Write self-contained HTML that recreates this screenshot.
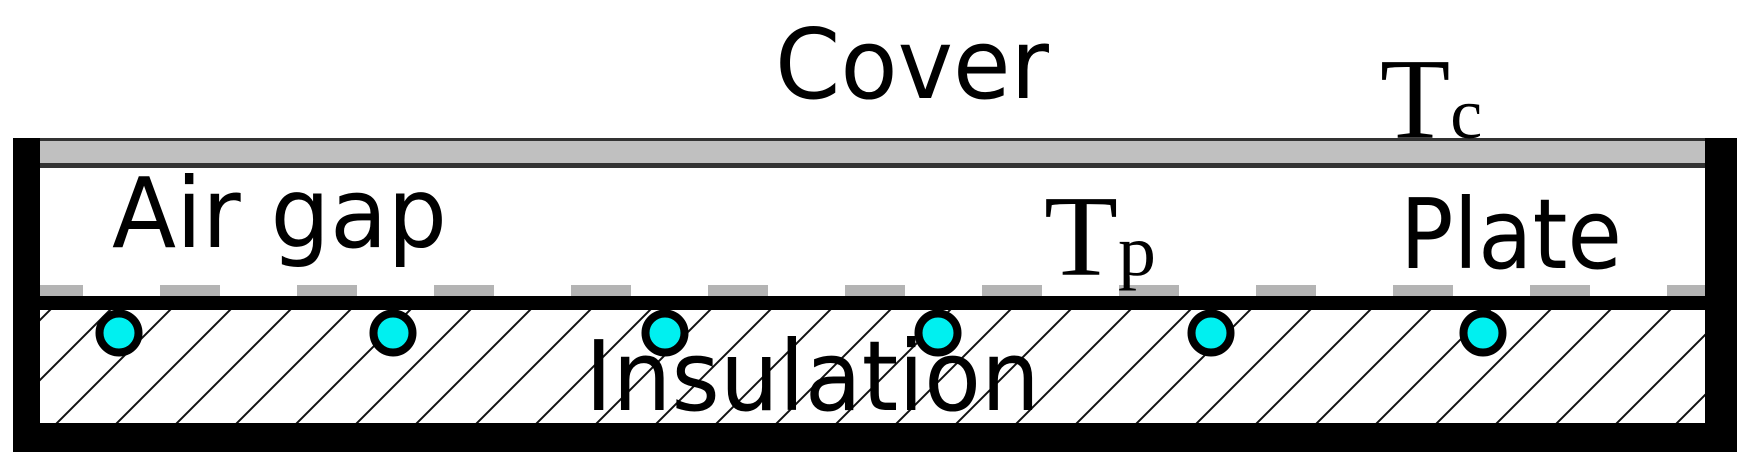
<!DOCTYPE html>
<html><head><style>body{margin:0;background:#fff}svg{display:block}</style></head><body>
<svg width="1759" height="476" viewBox="0 0 1759 476" xmlns="http://www.w3.org/2000/svg">
<defs>
<pattern id="h" patternUnits="userSpaceOnUse" width="60" height="60">
<path d="M-15,15 L15,-15 M0,60 L60,0 M45,75 L75,45" stroke="#111" stroke-width="2"/>
</pattern>
<clipPath id="c"><rect x="40" y="280" width="1665" height="30"/></clipPath>
</defs>
<rect x="40" y="310" width="1665" height="113" fill="url(#h)"/>
<rect x="40" y="141" width="1665" height="22" fill="#c0c0c0"/>
<rect x="13" y="138" width="1724" height="3" fill="#333"/>
<rect x="40" y="163" width="1665" height="5" fill="#333"/>
<g clip-path="url(#c)" fill="#b4b4b4">
<rect x="23" y="285" width="60" height="12"/><rect x="160" y="285" width="60" height="12"/><rect x="297" y="285" width="60" height="12"/><rect x="434" y="285" width="60" height="12"/><rect x="571" y="285" width="60" height="12"/><rect x="708" y="285" width="60" height="12"/><rect x="845" y="285" width="60" height="12"/><rect x="982" y="285" width="60" height="12"/><rect x="1119" y="285" width="60" height="12"/><rect x="1256" y="285" width="60" height="12"/><rect x="1393" y="285" width="60" height="12"/><rect x="1530" y="285" width="60" height="12"/><rect x="1667" y="285" width="60" height="12"/>
</g>
<rect x="40" y="296" width="1665" height="14" fill="#000"/>
<rect x="13" y="138" width="27" height="314" fill="#000"/>
<rect x="1705" y="138" width="32" height="314" fill="#000"/>
<rect x="13" y="423" width="1724" height="29" fill="#000"/>
<g fill="#00f0f0" stroke="#000" stroke-width="8">
<circle cx="119" cy="333" r="19.5"/><circle cx="393" cy="333" r="19.5"/><circle cx="665" cy="333" r="19.5"/><circle cx="938" cy="333" r="19.5"/><circle cx="1211" cy="333" r="19.5"/><circle cx="1483" cy="333" r="19.5"/>
</g>
<g font-family="DejaVu Sans, sans-serif" font-size="97" fill="#000">
<text x="775" y="98" textLength="274" lengthAdjust="spacingAndGlyphs">Cover</text>
<text x="112" y="247" textLength="335" lengthAdjust="spacingAndGlyphs">Air gap</text>
<text x="1400" y="268" textLength="222" lengthAdjust="spacingAndGlyphs">Plate</text>
<text x="585" y="410" textLength="455" lengthAdjust="spacingAndGlyphs">Insulation</text>
</g>
<g font-family="Liberation Serif, serif" fill="#000">
<text x="1380" y="138" font-size="115">T<tspan font-size="72">c</tspan></text>
<text x="1044" y="275" font-size="115" textLength="112" lengthAdjust="spacingAndGlyphs">T<tspan font-size="72">p</tspan></text>
</g>
</svg>
</body></html>
